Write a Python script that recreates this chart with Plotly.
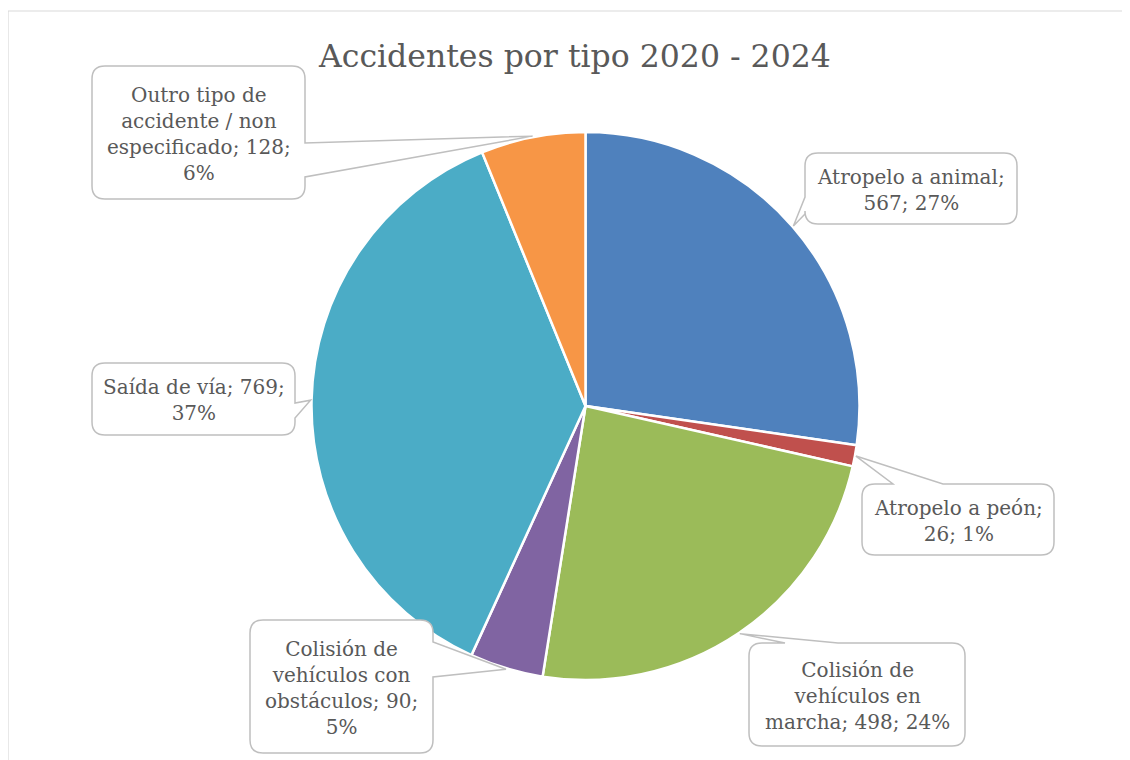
import math
import textwrap
import plotly.graph_objects as go

# ---------------- data ----------------
categories = [
    "Atropelo a animal",
    "Atropelo a peón",
    "Colisión de vehículos en marcha",
    "Colisión de vehículos con obstáculos",
    "Saída de vía",
    "Outro tipo de accidente / non especificado",
]
values = [567, 26, 498, 90, 769, 128]
pct_labels = ["27%", "1%", "24%", "5%", "37%", "6%"]
title_text = "Accidentes por tipo 2020 - 2024"

# ---------------- style ----------------
colors = ["#4F81BD", "#C0504D", "#9BBB59", "#8064A2", "#4BACC6", "#F79646"]
W, H = 1130, 760
OFF = 8  # page margin of the html body
CX, CY, R = 585.5, 406.0, 274.0
FONT = "DejaVu Serif"
TXT = "#595959"
BOX_LINE = "#BFBFBF"
wrap_widths = [18, 16, 16, 16, 18, 18]
# label boxes (screen px): x0, y0, x1, y1, side of the pointer, pointer base (a, b)
boxes = [
    (805, 153, 1017, 224, "left", (197, 214)),
    (862, 484, 1054, 555, "top", (893, 943)),
    (749, 643, 965, 746, "top", (785, 838)),
    (250, 620, 433, 753, "right", (642, 677)),
    (92, 363, 295, 435, "right", (403, 418)),
    (92, 66, 305, 199, "right", (143, 177)),
]

fig = go.Figure()

fig.add_trace(go.Pie(
    labels=categories,
    values=values,
    sort=False,
    direction="clockwise",
    rotation=0,
    marker=dict(colors=colors, line=dict(color="white", width=2.5)),
    textinfo="none",
    hoverinfo="label+value+percent",
    showlegend=False,
    domain=dict(x=[(CX - R - OFF) / W, (CX + R - OFF) / W],
                y=[1 - (CY + R - OFF) / H, 1 - (CY - R - OFF) / H]),
))

# tips of the callouts: mid angle of each slice, computed from values
total = sum(values)
cum = 0.0
tips = []
for v in values:
    mid = (cum + v / 2) / total
    cum += v
    ang = 2 * math.pi * mid
    tips.append((CX + (R + 1) * math.sin(ang), CY - (R + 1) * math.cos(ang)))


def callout_path(x0, y0, x1, y1, side, base, tip, r=13):
    a, b = base
    tx, ty = tip
    p = [f"M {x0 + r},{y0}"]
    if side == "top":
        p += [f"L {a},{y0}", f"L {tx},{ty}", f"L {b},{y0}"]
    p += [f"L {x1 - r},{y0}", f"Q {x1},{y0} {x1},{y0 + r}"]
    if side == "right":
        p += [f"L {x1},{a}", f"L {tx},{ty}", f"L {x1},{b}"]
    p += [f"L {x1},{y1 - r}", f"Q {x1},{y1} {x1 - r},{y1}"]
    if side == "bottom":
        p += [f"L {b},{y1}", f"L {tx},{ty}", f"L {a},{y1}"]
    p += [f"L {x0 + r},{y1}", f"Q {x0},{y1} {x0},{y1 - r}"]
    if side == "left":
        p += [f"L {x0},{b}", f"L {tx},{ty}", f"L {x0},{a}"]
    p += [f"L {x0},{y0 + r}", f"Q {x0},{y0} {x0 + r},{y0}", "Z"]
    return " ".join(p)


shapes = [
    # chart frame
    dict(type="rect", xref="x", yref="y", x0=8, y0=11, x1=W + 40, y1=H + 40,
         line=dict(color="#D9D9D9", width=1.2), fillcolor="rgba(0,0,0,0)", layer="below"),
]
annotations = []
for i, (name, v, pc) in enumerate(zip(categories, values, pct_labels)):
    x0, y0, x1, y1, side, base = boxes[i]
    shapes.append(dict(type="path", xref="x", yref="y",
                       path=callout_path(x0, y0, x1, y1, side, base, tips[i]),
                       line=dict(color=BOX_LINE, width=1.5), fillcolor="white", layer="above"))
    text = "<br>".join(textwrap.wrap(f"{name}; {v}; {pc}", wrap_widths[i]))
    annotations.append(dict(x=(x0 + x1) / 2, y=(y0 + y1) / 2 + 1, xref="x", yref="y",
                            text=text, showarrow=False, xanchor="center", yanchor="middle",
                            align="center", font=dict(family=FONT, size=20, color=TXT)))

annotations.append(dict(x=574, y=56, xref="x", yref="y", text=title_text, showarrow=False,
                        xanchor="center", yanchor="middle",
                        font=dict(family=FONT, size=31.5, color=TXT)))

fig.update_layout(
    width=W, height=H,
    margin=dict(l=0, r=0, t=0, b=0),
    paper_bgcolor="white", plot_bgcolor="rgba(0,0,0,0)",
    xaxis=dict(range=[OFF, W + OFF], visible=False, fixedrange=True),
    yaxis=dict(range=[H + OFF, OFF], visible=False, fixedrange=True),
    shapes=shapes,
    annotations=annotations,
)

fig.write_html("out.html")
